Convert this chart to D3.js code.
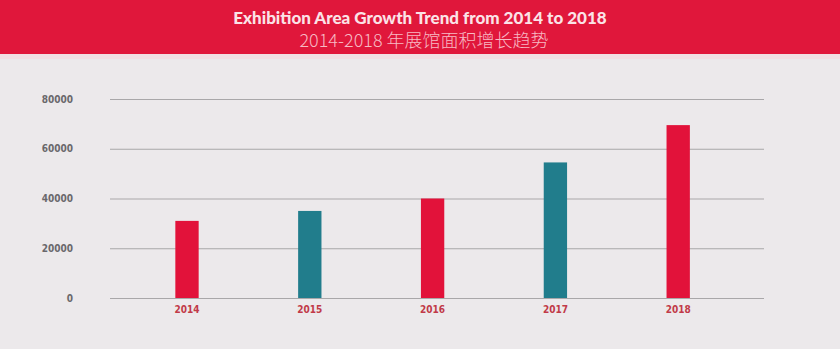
<!DOCTYPE html>
<html><head><meta charset="utf-8">
<script src="https://cdn.jsdelivr.net/npm/d3@7"></script>
<style>
html,body{margin:0;padding:0;background:#ece9eb;}
svg{display:block;}
.cond{font-family:'DejaVu Sans Condensed','DejaVu Sans',sans-serif;font-stretch:condensed;font-weight:bold;}
</style></head>
<body>
<svg id="chart" width="840" height="349"></svg>
<script>
const years = ["2014","2015","2016","2017","2018"];
const areaValues = [31000, 35000, 40000, 54500, 69500];
const barColors = ["#e2123a","#217d8c","#e2123a","#217d8c","#e2123a"];
const yTicks = [0, 20000, 40000, 60000, 80000];
const titleEn = "Exhibition Area Growth Trend from 2014 to 2018";
const titleZh = "2014-2018 年展馆面积增长趋势";

const svg = d3.select("#chart");
const W = 840, H = 349;

svg.append("rect").attr("width", W).attr("height", H).attr("fill", "#ece9eb");
svg.append("rect").attr("x",0).attr("y",54).attr("width",W).attr("height",5).attr("fill","#f1dfe3");
svg.append("rect").attr("width", W).attr("height", 54).attr("fill", "#e0173b");

svg.append("text").attr("x", 420).attr("y", 24).attr("text-anchor","middle")
  .attr("font-family","Lato, 'Open Sans', sans-serif").attr("font-weight","900")
  .attr("font-size","17px").attr("fill","#fbe3e7").text(titleEn);
svg.append("text").attr("x", 424).attr("y", 46.5).attr("text-anchor","middle")
  .attr("font-family","'Noto Sans CJK SC', 'Noto Sans', sans-serif").attr("font-weight","300")
  .attr("font-size","18px").attr("fill","#f7b9c3").text(titleZh);

const y = d3.scaleLinear().domain([0, 80000]).range([298, 99]);
const x = d3.scaleBand().domain(years).range([125.6, 739.6]).paddingInner(0.81).paddingOuter(0.405);

const g = svg.append("g").attr("transform","translate(110,0)");
g.call(d3.axisRight(y).tickValues(yTicks).tickSize(654).tickFormat(""));
g.select(".domain").remove();
g.selectAll(".tick line").attr("stroke","#a9a7a9").attr("stroke-width",1.2);

const gl = svg.append("g").attr("transform","translate(73,0)");
gl.call(d3.axisLeft(y).tickValues(yTicks).tickSize(0).tickPadding(0).tickFormat(d3.format("d")));
gl.select(".domain").remove();
gl.selectAll(".tick text").attr("class","cond").attr("font-family",null)
  .attr("font-size","10px").attr("fill","#6a686b");

svg.append("g").selectAll("rect").data(areaValues).join("rect")
  .attr("x",(d,i)=>x(years[i])).attr("width",x.bandwidth())
  .attr("y",d=>y(d)).attr("height",d=>y(0)-y(d))
  .attr("fill",(d,i)=>barColors[i]);

const gx = svg.append("g").attr("transform","translate(0,298)");
gx.call(d3.axisBottom(x).tickSize(0).tickPadding(8));
gx.select(".domain").remove();
gx.selectAll(".tick text").attr("class","cond").attr("font-family",null)
  .attr("font-size","10px").attr("fill","#c13a48");
</script>
</body></html>
